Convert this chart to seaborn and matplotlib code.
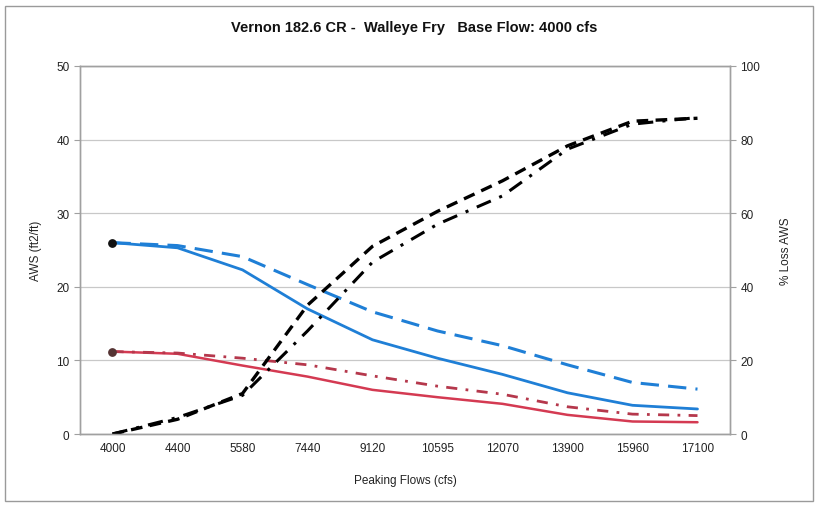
import numpy as np
import pandas as pd
import matplotlib
matplotlib.use("Agg")
import matplotlib.pyplot as plt
from matplotlib.patches import Rectangle
import seaborn as sns

# ---- data ----
flows = ["4000", "4400", "5580", "7440", "9120", "10595", "12070", "13900", "15960", "17100"]
aws_blue_solid = [26.0, 25.3, 22.3, 17.0, 12.8, 10.3, 8.1, 5.6, 3.9, 3.4]
aws_blue_dashed = [26.0, 25.6, 24.1, 20.3, 16.6, 14.0, 12.0, 9.4, 7.0, 6.1]
aws_red_solid = [11.2, 10.9, 9.3, 7.8, 6.0, 5.0, 4.1, 2.6, 1.7, 1.6]
aws_red_dashdot = [11.2, 11.0, 10.3, 9.4, 7.9, 6.5, 5.4, 3.7, 2.7, 2.5]
loss_dashed = [0.0, 4.0, 11.0, 35.0, 51.0, 60.5, 68.8, 78.3, 85.0, 85.8]
loss_dashdot = [0.0, 4.5, 10.5, 28.0, 46.7, 57.0, 64.7, 77.4, 84.2, 86.0]
left_ticks = [0, 10, 20, 30, 40, 50]
right_ticks = [0, 20, 40, 60, 80, 100]

sns.set_theme(style="white")
plt.rcParams["font.family"] = ["Liberation Sans", "DejaVu Sans"]

fig = plt.figure(figsize=(8.18, 5.06), dpi=100)
fig.patch.set_facecolor("white")
ax = fig.add_axes([0.0978, 0.1403, 0.7946, 0.7273])
ax2 = ax.twinx()

xpos = np.arange(len(flows))
blue = "#1f7fd6"
red = "#d43a52"
darkred = "#b5384c"

sns.lineplot(x=xpos, y=aws_blue_solid, ax=ax, color=blue, lw=2.0)
sns.lineplot(x=xpos, y=aws_blue_dashed, ax=ax, color=blue, lw=2.2)
ax.lines[-1].set_dashes([6, 3])
sns.lineplot(x=xpos, y=aws_red_solid, ax=ax, color=red, lw=1.8)
sns.lineplot(x=xpos, y=aws_red_dashdot, ax=ax, color=darkred, lw=2.0)
ax.lines[-1].set_dashes([4, 3, 1, 3])
ax.scatter([xpos[0]], [aws_blue_solid[0]], color="#111111", s=28, zorder=5)
ax.scatter([xpos[0]], [aws_red_solid[0]], color="#553333", s=28, zorder=5)

sns.lineplot(x=xpos, y=loss_dashed, ax=ax2, color="black", lw=2.4)
ax2.lines[-1].set_dashes([3.5, 2.2])
sns.lineplot(x=xpos, y=loss_dashdot, ax=ax2, color="black", lw=2.2)
ax2.lines[-1].set_dashes([5, 3, 1, 3])

ax.set_xlim(-0.5, len(flows) - 0.5)
ax.set_ylim(0, 50)
ax2.set_ylim(0, 100)
ax.set_yticks(left_ticks)
ax2.set_yticks(right_ticks)
ax.set_xticks(xpos)
ax.set_xticklabels(flows)
ax.set_xticks(np.arange(-0.5, len(flows), 1.0), minor=True)

ax.yaxis.grid(True, color="#c8c8c8", lw=0.9)
ax.xaxis.grid(False)
ax2.grid(False)

for a in (ax, ax2):
    for s in a.spines.values():
        s.set_color("#a0a0a0")
        s.set_linewidth(1.0)
    a.tick_params(axis="both", labelsize=8.5, labelcolor="#222222", colors="#a0a0a0")
    a.tick_params(axis="y", length=4, width=0.8, direction="out", labelcolor="#222222")
ax.tick_params(axis="x", which="major", length=0, pad=6, labelcolor="#222222")
ax.tick_params(axis="x", which="minor", length=4, width=0.8, color="#a0a0a0", direction="inout")

ax.set_xlabel("Peaking Flows (cfs)", fontsize=8.5, color="#222222", labelpad=14)
ax.set_ylabel("AWS (ft2/ft)", fontsize=8.5, color="#222222", labelpad=10)
ax2.set_ylabel("% Loss AWS", fontsize=8.5, color="#222222", labelpad=14, rotation=90)

fig.text(0.506, 0.944, "Vernon 182.6 CR -  Walleye Fry   Base Flow: 4000 cfs",
         ha="center", va="center", fontsize=10.5, fontweight="bold", color="#111111")

fig.patches.append(Rectangle((0.006, 0.008), 0.988, 0.978, transform=fig.transFigure,
                             fill=False, edgecolor="#9a9a9a", lw=1.0))

fig.savefig("out.png", dpi=100, facecolor="white")
